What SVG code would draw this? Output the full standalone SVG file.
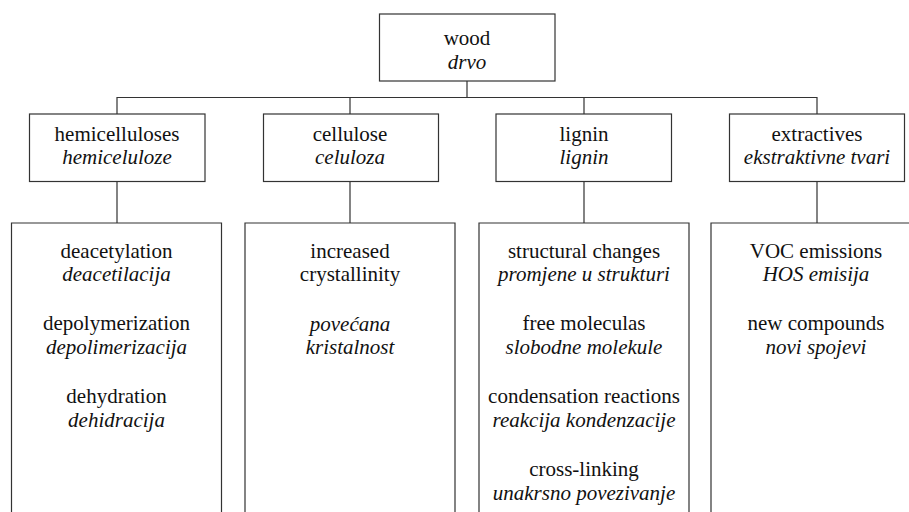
<svg xmlns="http://www.w3.org/2000/svg" width="909" height="512" viewBox="0 0 909 512">
<style>
.box{fill:#fff;stroke:#333;stroke-width:1.2}
.ln{fill:none;stroke:#333;stroke-width:1.2}
.m{text-anchor:middle}
.f{font-family:"Liberation Serif",serif}
</style>
<rect width="909" height="512" fill="#fff"/>
<g id="connectors">
<path class="ln" d="M467 81V97.5M117 114V97.5H817V114M350 97.5V114M584 97.5V114"/>
<path class="ln" d="M117 181.5V223M350 181.5V223M584 181.5V223M817 181.5V223"/>
</g>
<g id="wood">
<rect class="box" x="379.5" y="14" width="175.5" height="67"/>
<text class="m f" font-family="Liberation Serif" font-size="21" fill="#111" x="467" y="45">wood</text>
<text class="m f" font-family="Liberation Serif" font-size="21" fill="#111" font-style="italic" x="467" y="68.5">drvo</text>
</g>
<g id="hemicelluloses">
<rect class="box" x="29.5" y="114" width="175.5" height="67.5"/>
<text class="m f" font-family="Liberation Serif" font-size="21" fill="#111" x="117" y="141">hemicelluloses</text>
<text class="m f" font-family="Liberation Serif" font-size="21" fill="#111" font-style="italic" x="117" y="164">hemiceluloze</text>
</g>
<g id="cellulose">
<rect class="box" x="263.5" y="114" width="175" height="67.5"/>
<text class="m f" font-family="Liberation Serif" font-size="21" fill="#111" x="350" y="141">cellulose</text>
<text class="m f" font-family="Liberation Serif" font-size="21" fill="#111" font-style="italic" x="350" y="164">celuloza</text>
</g>
<g id="lignin">
<rect class="box" x="496" y="114" width="175.5" height="67.5"/>
<text class="m f" font-family="Liberation Serif" font-size="21" fill="#111" x="584" y="141">lignin</text>
<text class="m f" font-family="Liberation Serif" font-size="21" fill="#111" font-style="italic" x="584" y="164">lignin</text>
</g>
<g id="extractives">
<rect class="box" x="729.5" y="114" width="175" height="67.5"/>
<text class="m f" font-family="Liberation Serif" font-size="21" fill="#111" x="817" y="141">extractives</text>
<text class="m f" font-family="Liberation Serif" font-size="21" fill="#111" font-style="italic" x="817" y="164">ekstraktivne tvari</text>
</g>
<g id="hemicelluloses-effects">
<path class="ln" d="M11.5 515V223H221.5V515"/>
<text class="m f" font-family="Liberation Serif" font-size="21" fill="#111" x="116.5" y="257.5">deacetylation</text>
<text class="m f" font-family="Liberation Serif" font-size="21" fill="#111" font-style="italic" x="116.5" y="281">deacetilacija</text>
<text class="m f" font-family="Liberation Serif" font-size="21" fill="#111" x="116.5" y="330">depolymerization</text>
<text class="m f" font-family="Liberation Serif" font-size="21" fill="#111" font-style="italic" x="116.5" y="353.5">depolimerizacija</text>
<text class="m f" font-family="Liberation Serif" font-size="21" fill="#111" x="116.5" y="403">dehydration</text>
<text class="m f" font-family="Liberation Serif" font-size="21" fill="#111" font-style="italic" x="116.5" y="426.5">dehidracija</text>
</g>
<g id="cellulose-effects">
<path class="ln" d="M245 515V223H455V515"/>
<text class="m f" font-family="Liberation Serif" font-size="21" fill="#111" x="350" y="257.5">increased</text>
<text class="m f" font-family="Liberation Serif" font-size="21" fill="#111" x="350" y="281">crystallinity</text>
<text class="m f" font-family="Liberation Serif" font-size="21" fill="#111" font-style="italic" x="350" y="330.5">povećana</text>
<text class="m f" font-family="Liberation Serif" font-size="21" fill="#111" font-style="italic" x="350" y="354">kristalnost</text>
</g>
<g id="lignin-effects">
<path class="ln" d="M479 515V223H689V515"/>
<text class="m f" font-family="Liberation Serif" font-size="21" fill="#111" x="584" y="257.5">structural changes</text>
<text class="m f" font-family="Liberation Serif" font-size="21" fill="#111" font-style="italic" x="584" y="281">promjene u strukturi</text>
<text class="m f" font-family="Liberation Serif" font-size="21" fill="#111" x="584" y="330">free moleculas</text>
<text class="m f" font-family="Liberation Serif" font-size="21" fill="#111" font-style="italic" x="584" y="354">slobodne molekule</text>
<text class="m f" font-family="Liberation Serif" font-size="21" fill="#111" x="584" y="403">condensation reactions</text>
<text class="m f" font-family="Liberation Serif" font-size="21" fill="#111" font-style="italic" x="584" y="426.5">reakcija kondenzacije</text>
<text class="m f" font-family="Liberation Serif" font-size="21" fill="#111" x="584" y="476">cross-linking</text>
<text class="m f" font-family="Liberation Serif" font-size="21" fill="#111" font-style="italic" x="584" y="499.5">unakrsno povezivanje</text>
</g>
<g id="extractives-effects">
<path class="ln" d="M711 515V223H912"/>
<text class="m f" font-family="Liberation Serif" font-size="21" fill="#111" x="816" y="257.5">VOC emissions</text>
<text class="m f" font-family="Liberation Serif" font-size="21" fill="#111" font-style="italic" x="816" y="281">HOS emisija</text>
<text class="m f" font-family="Liberation Serif" font-size="21" fill="#111" x="816" y="330">new compounds</text>
<text class="m f" font-family="Liberation Serif" font-size="21" fill="#111" font-style="italic" x="816" y="354">novi spojevi</text>
</g>
</svg>
